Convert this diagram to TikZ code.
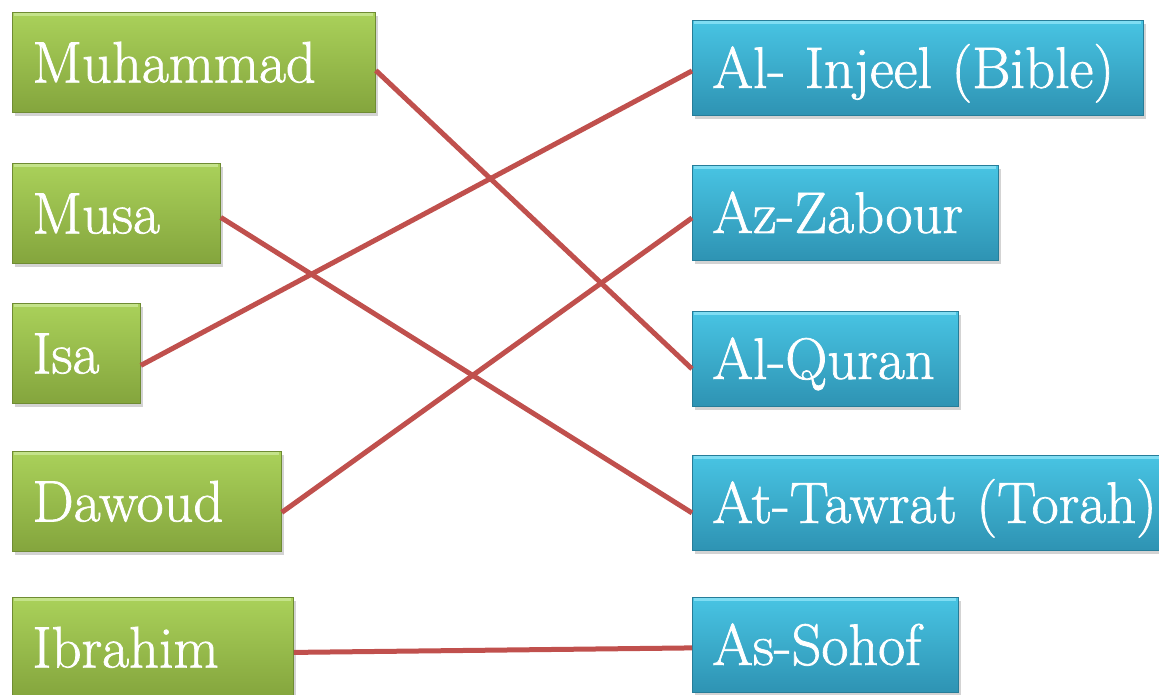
\documentclass[tikz,border=0pt]{standalone}
\usepackage{fontspec}
\newfontfamily\boxfont{lmroman17-regular.otf}[FakeBold=1.2]
\usetikzlibrary{shadows}
\definecolor{gtop}{HTML}{AAD15A}
\definecolor{gbot}{HTML}{84A53D}
\definecolor{gline}{HTML}{6F8C33}
\definecolor{ghi}{HTML}{C4E38A}
\definecolor{btop}{HTML}{48C4E3}
\definecolor{bbot}{HTML}{2E93B3}
\definecolor{bline}{HTML}{267D99}
\definecolor{bhi}{HTML}{7FDDF3}
\definecolor{link}{HTML}{C0504D}
\tikzset{
  box/.style={anchor=north west, inner xsep=20pt, inner ysep=0pt, align=left,
    text=white, font=\boxfont\fontsize{58.5}{68}\selectfont, text height=40pt, text depth=0pt,
    draw, line width=0.8pt, drop shadow={shadow xshift=3pt, shadow yshift=-4pt, opacity=0.35}},
  gbox/.style={box, top color=gtop, bottom color=gbot, draw=gline, minimum height=100pt,
    path picture={\draw[ghi, line width=3pt] ([shift={(2pt,-2pt)}]path picture bounding box.north west) -- ([shift={(-2pt,-2pt)}]path picture bounding box.north east);}},
  bbox/.style={box, top color=btop, bottom color=bbot, draw=bline, minimum height=95pt,
    path picture={\draw[bhi, line width=3pt] ([shift={(2pt,-2pt)}]path picture bounding box.north west) -- ([shift={(-2pt,-2pt)}]path picture bounding box.north east);}},
  connector/.style={draw=link, line width=5pt}
}
\begin{document}
\begin{tikzpicture}[x=1pt,y=-1pt]
\useasboundingbox (0,0) rectangle (1159,694);
% left boxes
\node[gbox, minimum width=363pt, text width=323pt] (muh) at (12,12) {\mbox{Muhammad}};
\node[gbox, minimum width=208pt, text width=168pt] (musa) at (12,163) {\mbox{Musa}};
\node[gbox, minimum width=128pt, text width=88pt] (isa) at (12,303) {\mbox{Isa}};
\node[gbox, minimum width=269pt, text width=229pt] (daw) at (12,451) {\mbox{Dawoud}};
\node[gbox, minimum width=281pt, text width=241pt] (ibr) at (12,597) {\mbox{Ibrahim}};
% right boxes
\node[bbox, minimum width=451pt, text width=411pt] (inj) at (692,20) {\mbox{Al- Injeel (Bible)}};
\node[bbox, minimum width=306pt, text width=266pt] (zab) at (692,165) {\mbox{Az-Zabour}};
\node[bbox, minimum width=266pt, text width=226pt] (qur) at (692,311) {\mbox{Al-Quran}};
\node[bbox, minimum width=480pt, text width=440pt] (taw) at (692,455) {\mbox{At-Tawrat (Torah)}};
\node[bbox, minimum width=266pt, text width=226pt] (soh) at (692,597) {\mbox{As-Sohof}};
% connectors
\draw[connector] ([yshift=-8pt]muh.east) -- ([yshift=-10pt]qur.west);
\draw[connector] ([yshift=-4pt]musa.east) -- ([yshift=-10pt]taw.west);
\draw[connector] ([yshift=-12pt]isa.east) -- ([yshift=-3pt]inj.west);
\draw[connector] ([yshift=-11pt]daw.east) -- ([yshift=-5pt]zab.west);
\draw[connector] ([yshift=-5pt]ibr.east) -- ([yshift=-3pt]soh.west);
\end{tikzpicture}
\end{document}
